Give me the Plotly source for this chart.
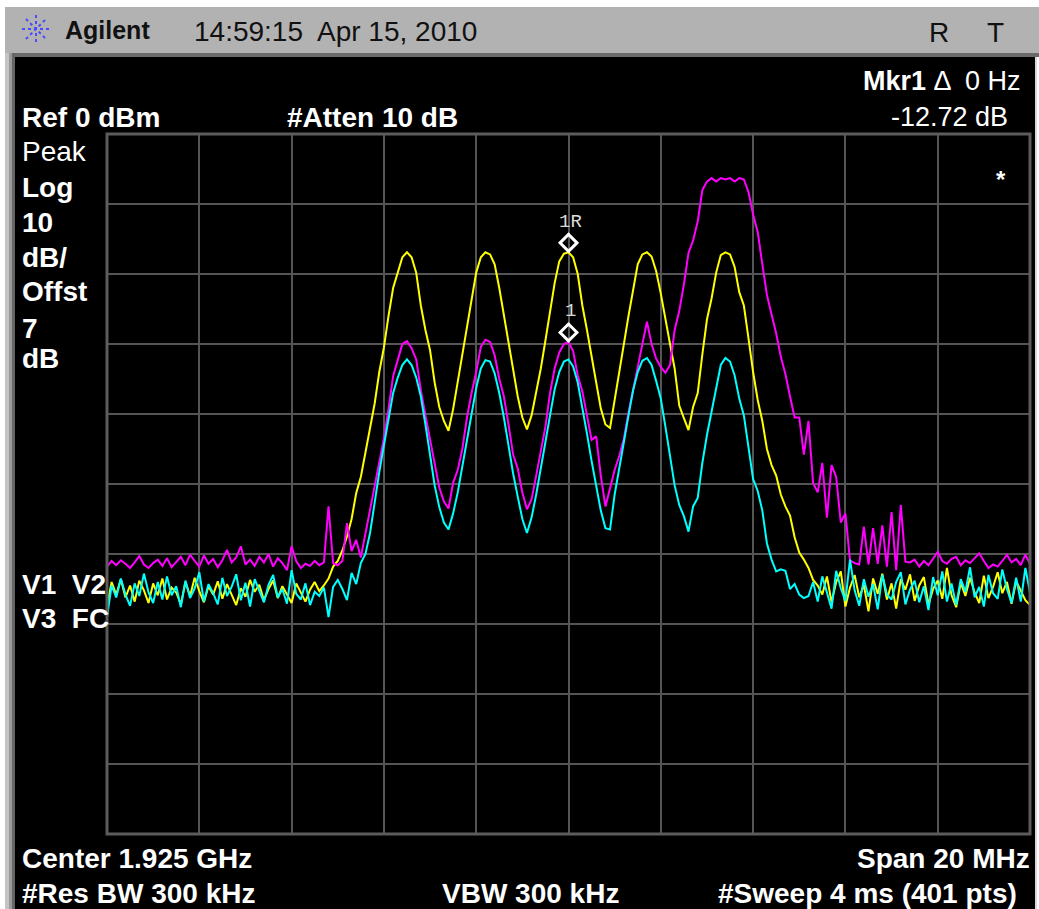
import plotly.graph_objects as go

W, H = 1039, 909

# ---------------- data ----------------
START_MHZ = 1915.0
STEP_MHZ = 0.1          # 201 display points across the 20 MHz span
SPAN_MHZ = 20.0
REF_DBM = 0.0
DB_PER_DIV = 10.0
N_DIV = 10

yellow = [
    -67.5, -64.0, -65.8, -63.6, -66.2, -64.5, -66.8, -63.8, -65.2, -67.0,
    -64.2, -65.9, -63.5, -66.5, -64.8, -65.5, -67.2, -64.0, -66.0, -63.4,
    -65.3, -66.9, -64.6, -65.8, -63.9, -66.4, -64.3, -65.7, -67.3, -64.9,
    -66.1, -63.7, -65.4, -64.4, -66.6, -65.0, -63.8, -66.3, -64.6, -65.8,
    -67.0, -64.2, -65.6, -66.8, -65.1, -64.0, -65.3, -64.5, -63.5, -61.8,
    -61.0, -59.5, -57.5, -55.0, -51.3, -49.0, -45.5, -42.0, -38.5, -34.0,
    -30.5, -26.0, -22.0, -19.8, -17.6, -16.9, -17.6, -19.8, -24.5, -28.0,
    -30.9, -35.5, -39.0, -41.0, -42.4, -39.3, -35.5, -31.5, -27.5, -23.5,
    -19.8, -17.6, -16.9, -17.2, -18.6, -22.0, -26.0, -30.0, -33.8, -37.5,
    -40.5, -42.2, -40.2, -37.0, -33.5, -29.5, -25.5, -21.3, -18.2, -17.1,
    -16.9, -17.6, -20.0, -24.5, -28.0, -31.5, -35.5, -39.2, -41.5, -42.0,
    -37.8, -34.0, -30.0, -26.0, -22.0, -18.6, -17.2, -16.9, -17.5, -19.6,
    -22.8, -26.7, -30.0, -33.5, -38.8, -40.6, -42.3, -39.0, -37.0, -31.5,
    -26.5, -23.5, -19.8, -17.3, -16.9, -17.2, -19.0, -22.6, -24.5, -29.2,
    -34.0, -38.0, -41.0, -45.0, -47.3, -48.8, -51.5, -53.2, -54.5, -57.6,
    -59.8, -60.8, -62.0, -63.7, -64.5, -65.8, -63.2, -66.9, -64.0, -62.5,
    -67.5, -64.8, -63.0, -66.2, -64.4, -68.2, -63.5, -65.7, -62.8, -66.5,
    -64.2, -67.8, -63.6, -65.1, -62.9, -66.7, -64.5, -63.3, -67.2, -65.0,
    -63.8, -66.4, -62.0, -65.9, -67.6, -64.1, -66.0, -63.4, -65.5, -67.0,
    -63.1, -66.3, -64.7, -62.6, -65.6, -64.0, -67.1, -63.9, -65.2, -66.6,
    -67.3,
]

magenta = [
    -61.8, -61.0, -61.6, -60.9, -61.4, -62.0, -61.2, -60.3, -61.5, -62.0,
    -61.3, -60.8, -61.7, -60.6, -61.9, -61.1, -60.4, -61.6, -60.1, -61.0,
    -61.8, -60.2, -61.4, -60.7, -61.9, -60.9, -59.4, -61.2, -60.5, -58.9,
    -61.5, -60.8, -61.7, -60.4, -61.2, -60.0, -61.8, -60.6, -61.3, -62.3,
    -58.9, -61.0, -62.0, -61.4, -61.7, -61.0, -61.6, -61.2, -53.2, -61.3,
    -61.6, -61.0, -55.6, -59.6, -58.0, -60.5, -57.0, -54.0, -50.5, -47.0,
    -43.5, -39.3, -34.6, -32.3, -30.0, -29.6, -30.6, -32.2, -36.6, -40.2,
    -43.5, -47.0, -50.5, -52.5, -53.5, -49.8, -48.0, -45.0, -40.5, -37.0,
    -34.0, -30.4, -29.4, -29.7, -31.6, -35.0, -37.5, -41.5, -45.8, -47.8,
    -51.2, -53.6, -52.2, -48.8, -45.2, -41.8, -37.0, -33.5, -31.2, -30.0,
    -29.7, -31.0, -34.5, -36.8, -40.2, -43.7, -43.2, -48.8, -53.2, -50.4,
    -48.0, -46.0, -43.5, -39.8, -36.6, -33.0, -29.8, -26.8, -30.0, -32.1,
    -33.3, -34.1, -33.0, -28.0, -25.3, -21.5, -17.0, -15.2, -12.5, -8.0,
    -6.8, -6.3, -6.8, -6.3, -6.5, -6.3, -6.8, -6.3, -6.5, -8.3,
    -11.5, -14.0, -18.6, -23.0, -25.8, -28.5, -31.8, -34.3, -37.5, -40.5,
    -40.5, -45.8, -41.0, -49.9, -51.2, -47.0, -54.8, -47.3, -49.0, -55.5,
    -54.2, -60.9, -61.3, -61.5, -56.1, -61.5, -56.3, -61.4, -55.9, -61.8,
    -54.0, -62.3, -53.0, -61.1, -61.2, -60.8, -61.8, -61.0, -61.6, -60.6,
    -59.7, -61.0, -61.4, -60.7, -60.4, -61.6, -60.9, -61.3, -60.6, -59.9,
    -61.0, -62.0, -61.5, -61.8, -61.0, -60.1, -61.2, -60.7, -61.6, -60.1,
    -61.4,
]

cyan = [
    -69.0, -64.5, -66.2, -63.5, -65.8, -67.4, -64.2, -66.0, -62.8, -65.5,
    -67.0, -64.0, -66.5, -63.2, -65.9, -64.6, -67.6, -63.8, -66.3, -64.9,
    -62.6, -66.8, -64.3, -65.6, -67.2, -63.4, -66.0, -64.7, -62.9, -66.6,
    -64.1, -67.5, -63.6, -65.3, -66.9, -64.4, -63.0, -66.2, -65.0, -67.1,
    -62.3, -65.7, -66.5, -64.2, -67.3, -65.4, -66.0, -64.8, -69.0, -64.7,
    -63.7, -65.0, -66.6, -62.7, -64.3, -61.3, -60.0, -57.0, -52.5, -48.3,
    -44.5, -40.8, -37.0, -34.8, -33.0, -32.2, -33.0, -34.8, -37.5, -41.5,
    -46.0, -50.2, -53.3, -55.5, -56.5, -54.2, -51.2, -47.3, -43.8, -40.0,
    -36.3, -33.5, -32.3, -32.5, -34.2, -37.0, -40.5, -44.5, -48.5, -51.8,
    -55.0, -57.0, -54.8, -51.5, -48.0, -44.0, -40.2, -36.5, -34.0, -32.5,
    -32.2, -33.2, -35.5, -39.0, -42.8, -46.7, -50.5, -53.8, -56.3, -56.5,
    -51.5, -48.0, -44.0, -40.2, -36.6, -34.0, -32.4, -32.0, -33.0, -35.3,
    -37.8, -41.8, -46.0, -50.2, -53.0, -54.6, -56.8, -53.2, -52.0, -47.0,
    -43.0, -39.5, -36.0, -33.0, -32.0, -32.5, -34.5, -37.8, -40.2, -44.5,
    -49.3, -51.0, -53.8, -58.5, -60.8, -62.5, -62.2, -62.4, -65.0, -64.3,
    -65.8, -66.3, -66.0, -64.0, -66.8, -63.2, -65.5, -67.8, -62.4, -64.9,
    -66.7, -60.8, -65.2, -67.4, -63.6, -66.1, -64.3, -67.9, -63.0, -65.8,
    -66.5, -64.0, -62.6, -67.2, -65.1, -63.8, -66.9, -64.6, -68.0, -63.3,
    -65.9, -62.5, -66.8, -64.2, -67.3, -63.6, -65.4, -61.9, -66.2, -64.7,
    -67.5, -63.0, -65.6, -66.4, -62.2, -65.0, -67.0, -63.4, -66.8, -62.0,
    -65.5,
]

MARKER_FREQ_MHZ = 1925.0
MARKER_LIFT_DB = 1.35   # symbol sits just above the trace point
MARKER_LABELS = ["1R", "1"]

HEADER_BRAND = "Agilent"
HEADER_TIME = "14:59:15  Apr 15, 2010"
HEADER_FLAGS = ["R", "T"]
REF_TEXT = "Ref 0 dBm"
ATTEN_TEXT = "#Atten 10 dB"
MKR_TEXT = "<b>Mkr1</b> Δ  0 Hz"
MKR_VALUE = "-12.72 dB"
LEFT_LABELS = [("Peak", False), ("Log", True), ("10", True), ("dB/", True),
               ("Offst", True), ("7", True), ("dB", True)]
VIEW_LABELS = ["V1  V2", "V3  FC"]
CENTER_TEXT = "Center 1.925 GHz"
SPAN_TEXT = "Span 20 MHz"
RBW_TEXT = "#Res BW 300 kHz"
VBW_TEXT = "VBW 300 kHz"
SWEEP_TEXT = "#Sweep 4 ms (401 pts)"

freq = [START_MHZ + STEP_MHZ * i for i in range(len(yellow))]

# ---------------- helpers ----------------
def px(x):
    return x / W

def py(y):
    return 1 - y / H

FONT = "Liberation Sans, Arial, sans-serif"
TXT = 28
annotations = []

def ann(x, y, text, size=TXT, bold=False, xanchor="left", color="white", family=FONT):
    if bold:
        text = "<b>" + text + "</b>"
    annotations.append(dict(
        x=px(x), y=py(y), xref="paper", yref="paper", text=text, showarrow=False,
        xanchor=xanchor, yanchor="middle", borderpad=0,
        font=dict(size=size, color=color, family=family)))

shapes = []

def rect(x0, y0, x1, y1, color):
    shapes.append(dict(type="rect", xref="paper", yref="paper", layer="below",
                       x0=px(x0), x1=px(x1), y0=py(y1), y1=py(y0),
                       fillcolor=color, line=dict(width=0)))

# screen frame
rect(5, 7, 1039, 53, "#b2b2b2")
rect(5, 53, 1039, 57, "#6a6a6a")
rect(5, 53, 9, 909, "#c4c4c4")
rect(9, 53, 12, 909, "#9a9a9a")
rect(12, 53, 15, 909, "#666666")
rect(15, 57, 1035, 909, "#000000")
rect(1035, 57, 1037, 909, "#d8d8d8")

# Agilent spark logo (dotted blue rays)
cx, cy, r = 36, 29, 14
for dx, dy in [(1, 0), (0, 1), (0.72, 0.72), (0.72, -0.72)]:
    shapes.append(dict(type="line", xref="paper", yref="paper", layer="above",
                       x0=px(cx - r * dx), x1=px(cx + r * dx),
                       y0=py(cy - r * dy), y1=py(cy + r * dy),
                       line=dict(color="#4a4aff", width=2, dash="dot")))

# plot-area border
PX0, PX1, PY0, PY1 = 107, 1030, 134, 834
shapes.append(dict(type="rect", xref="paper", yref="paper", layer="above",
                   x0=px(PX0), x1=px(PX1), y0=py(PY1), y1=py(PY0),
                   line=dict(color="#5c5c5c", width=3)))

# ---------------- text ----------------
ann(64, 30, HEADER_BRAND, size=25, bold=True, color="#111111")
ann(193, 31, HEADER_TIME, size=28, color="#111111")
ann(939, 32, HEADER_FLAGS[0], size=28, color="#111111", xanchor="center")
ann(995, 32, HEADER_FLAGS[1], size=28, color="#111111", xanchor="center")

ann(21, 117, REF_TEXT, bold=True)
ann(286, 117, ATTEN_TEXT, bold=True)
ann(1022, 81, MKR_TEXT, size=27, xanchor="right")
ann(1009, 117, MKR_VALUE, size=27, xanchor="right")

left_y = [152, 187, 222, 257, 292, 328, 359]
for (t, b), y in zip(LEFT_LABELS, left_y):
    ann(21, y, t, bold=b)
ann(21, 584, VIEW_LABELS[0], bold=True)
ann(21, 618, VIEW_LABELS[1], bold=True)

ann(21, 858, CENTER_TEXT, bold=True)
ann(1031, 858, SPAN_TEXT, bold=True, xanchor="right")
ann(21, 893, RBW_TEXT, bold=True)
ann(530, 893, VBW_TEXT, bold=True, xanchor="center")
ann(1018, 893, SWEEP_TEXT, bold=True, xanchor="right")

ann(1001, 180, "*", size=24, bold=True, xanchor="center")

# ---------------- traces ----------------
fig = go.Figure()
for vals, col in [(yellow, "#ffff00"), (magenta, "#ff00ff"), (cyan, "#00ffff")]:
    fig.add_trace(go.Scatter(x=freq, y=vals, mode="lines",
                             line=dict(color=col, width=2), hoverinfo="skip",
                             showlegend=False))

mi = round((MARKER_FREQ_MHZ - START_MHZ) / STEP_MHZ)
marker_levels = [yellow[mi] + MARKER_LIFT_DB, magenta[mi] + MARKER_LIFT_DB]
fig.add_trace(go.Scatter(
    x=[freq[mi]] * 2, y=marker_levels, mode="markers",
    marker=dict(symbol="diamond-open", size=13, color="white",
                line=dict(color="white", width=3)),
    hoverinfo="skip", showlegend=False))
for lab, lvl in zip(MARKER_LABELS, marker_levels):
    annotations.append(dict(x=freq[mi], y=lvl, xref="x", yref="y", text=lab,
                            showarrow=False, yshift=21, xshift=2,
                            font=dict(size=19, color="#dcdcdc",
                                      family="Liberation Mono, monospace")))

fig.update_layout(
    width=W, height=H, autosize=False,
    margin=dict(l=0, r=0, t=0, b=0, pad=0),
    paper_bgcolor="white", plot_bgcolor="black",
    shapes=shapes, annotations=annotations,
    xaxis=dict(domain=[px(PX0), px(PX1)], range=[START_MHZ, START_MHZ + SPAN_MHZ],
               tick0=START_MHZ, dtick=SPAN_MHZ / N_DIV, showgrid=True,
               gridcolor="#555555", gridwidth=2, zeroline=False,
               showticklabels=False, ticks="", showline=False, fixedrange=True),
    yaxis=dict(domain=[py(PY1), py(PY0)],
               range=[REF_DBM - DB_PER_DIV * N_DIV, REF_DBM],
               tick0=REF_DBM, dtick=DB_PER_DIV, showgrid=True,
               gridcolor="#555555", gridwidth=2, zeroline=False,
               showticklabels=False, ticks="", showline=False, fixedrange=True),
)

fig.write_html(
    "out.html",
    config={"displayModeBar": False},
    post_script="document.body.style.margin='0';document.body.style.overflow='hidden';",
)
